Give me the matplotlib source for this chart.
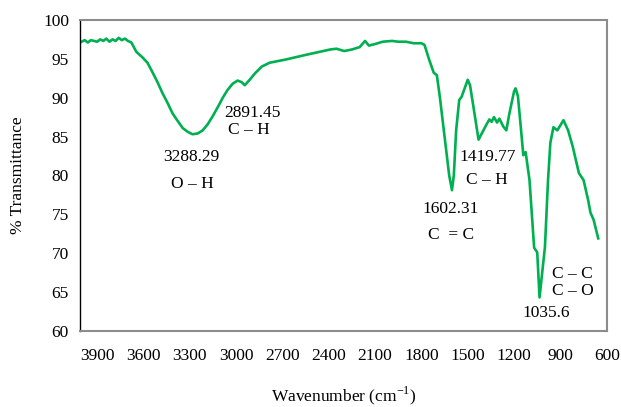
import matplotlib
matplotlib.use('Agg')
import matplotlib.pyplot as plt

plt.rcParams['font.family'] = ['Liberation Serif', 'DejaVu Serif']
plt.rcParams['mathtext.fontset'] = 'custom'
plt.rcParams['mathtext.rm'] = 'Liberation Serif'

# spectrum
wavenumber = [4000, 3980, 3960, 3940, 3920, 3900, 3880, 3860, 3840, 3820, 3800, 3780,
              3760, 3740, 3720, 3700, 3678, 3646, 3607, 3574, 3542, 3509, 3477, 3443,
              3412, 3378, 3346, 3313, 3282, 3248, 3216, 3183, 3152, 3118, 3086, 3055,
              3022, 2990, 2964, 2944, 2912, 2879, 2834, 2782, 2680, 2550, 2390, 2350,
              2300, 2250, 2200, 2165, 2140, 2100, 2050, 1990, 1950, 1900, 1850, 1800,
              1780, 1750, 1720, 1700, 1680, 1650, 1620, 1602, 1590, 1575, 1555, 1540,
              1500, 1485, 1455, 1430, 1380, 1360, 1345, 1330, 1310, 1295, 1270, 1250,
              1230, 1200, 1190, 1175, 1160, 1140, 1125, 1100, 1070, 1050, 1035, 1000,
              980, 965, 945, 920, 880, 850, 820, 780, 750, 720, 705, 685, 655]
transmittance = [97.2, 97.4, 97.1, 97.4, 97.3, 97.2, 97.5, 97.3, 97.6, 97.2, 97.5, 97.3,
                 97.7, 97.4, 97.6, 97.3, 97.1, 95.9, 95.2, 94.5, 93.3, 92.0, 90.6, 89.3,
                 88.0, 87.0, 86.1, 85.6, 85.3, 85.4, 85.8, 86.6, 87.6, 88.8, 90.0, 91.0,
                 91.8, 92.2, 92.0, 91.6, 92.3, 93.1, 94.0, 94.5, 94.9, 95.5, 96.2, 96.3,
                 96.0, 96.2, 96.5, 97.3, 96.7, 96.9, 97.2, 97.3, 97.2, 97.2, 97.0, 97.0,
                 96.8, 94.9, 93.2, 92.9, 90.0, 85.0, 80.0, 78.1, 80.0, 85.8, 89.7, 90.1,
                 92.3, 91.6, 87.8, 84.6, 86.5, 87.2, 86.9, 87.5, 86.8, 87.3, 86.3, 85.8,
                 88.0, 90.8, 91.2, 90.2, 87.0, 82.6, 83.0, 79.4, 70.7, 70.1, 64.3, 70.8,
                 79.4, 84.2, 86.2, 85.8, 87.1, 85.8, 83.7, 80.3, 79.4, 76.8, 75.2, 74.3, 71.9]

x_ticks = [3900, 3600, 3300, 3000, 2700, 2400, 2100, 1800, 1500, 1200, 900, 600]
y_ticks = [60, 65, 70, 75, 80, 85, 90, 95, 100]

labels = [('3288.29', 3290, 82.4), ('O \u2013 H', 3285, 78.9),
          ('2891.45', 2892, 88.0), ('C \u2013 H', 2920, 85.8),
          ('1602.31', 1610, 75.7), ('C  = C', 1610, 72.3),
          ('1419.77', 1373, 82.4), ('C \u2013 H', 1373, 79.4),
          ('1035.6', 990, 62.3), ('C \u2013 C', 820, 67.3), ('C \u2013 O', 820, 65.1)]

fig = plt.figure(figsize=(6.21, 4.07), dpi=100)
ax = fig.add_axes([0.129, 0.187, 0.848, 0.764])
ax.plot(wavenumber, transmittance, color='#00B050', linewidth=1.9)

ax.set_xlim(4010, 600)
ax.set_ylim(60, 100)
ax.set_xticks(x_ticks)
ax.set_yticks(y_ticks)
ax.tick_params(length=0, labelsize=12.5, pad=12)
ax.tick_params(axis='y', pad=8)

for s in ['top', 'right', 'bottom']:
    ax.spines[s].set_color('#8c8c8c')
    ax.spines[s].set_linewidth(1.5)
ax.spines['left'].set_color('black')
ax.spines['left'].set_linewidth(1.0)

for txt, x, y in labels:
    ax.text(x, y, txt, fontsize=12.5, ha='center', va='center')

ax.set_xlabel('Wavenumber (cm$^{-1}$)', fontsize=12.5, labelpad=15)
ax.set_ylabel('% Transmittance', fontsize=12.5, labelpad=12)

plt.savefig('out.png', dpi=100)
